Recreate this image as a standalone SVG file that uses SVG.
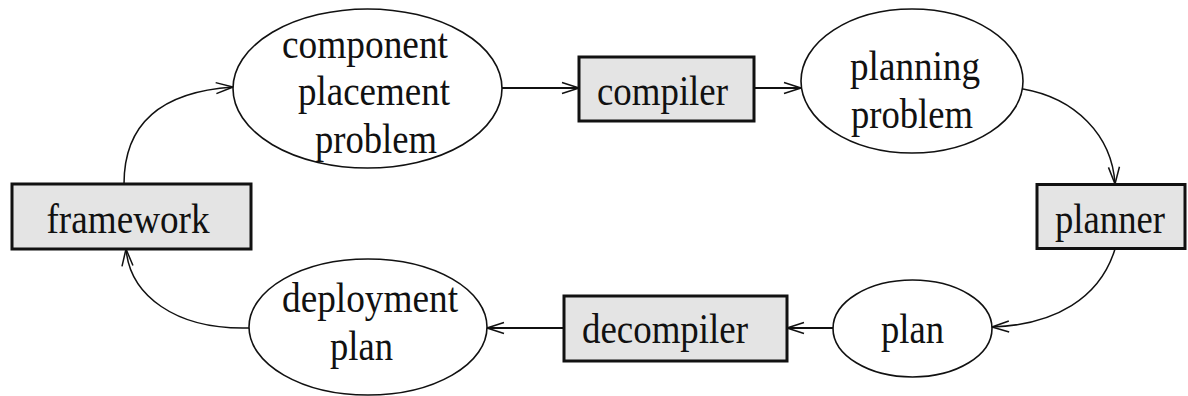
<svg xmlns="http://www.w3.org/2000/svg" width="1188" height="396" viewBox="0 0 1188 396">
  <style>
    .box { fill: #e4e4e4; stroke: #111; stroke-width: 3; }
    .oval { fill: #fff; stroke: #111; stroke-width: 1.6; }
    .lbl { font-family: "Liberation Serif", "Times New Roman", serif; font-size: 42px; fill: #111; text-anchor: middle; }
    .edge { fill: none; stroke: #111; stroke-width: 1.5; marker-end: url(#open); }
    .edge.thick { stroke-width: 2.2; }
  </style>
  <defs>
    <!-- open "V" arrowhead shared by all connectors -->
    <marker id="open" viewBox="0 0 19 14" refX="18" refY="7" markerWidth="19" markerHeight="14" markerUnits="userSpaceOnUse" orient="auto">
      <path d="M1,1.5 L18,7 L1,12.5" fill="none" stroke="#111" stroke-width="1.5"/>
    </marker>
  </defs>
  <rect width="1188" height="396" fill="#fff"/>

  <!-- connectors -->
  <g id="connectors">
    <path class="edge" d="M124,184 C124,126 158,92 233,87"/>
    <path class="edge thick" d="M502,88 L579,88"/>
    <path class="edge thick" d="M754,88 L801,88"/>
    <path class="edge" d="M1023,89 C1075,98 1112,135 1115,184"/>
    <path class="edge" d="M1115,249 C1100,298 1055,325 992,327"/>
    <path class="edge thick" d="M833,328 L787,328"/>
    <path class="edge thick" d="M564,328 L487,328"/>
    <path class="edge" d="M249,328 C175,330 130,295 126,249"/>
  </g>

  <!-- nodes -->
  <g id="framework">
    <rect class="box" x="12" y="184" width="239" height="65"/>
    <text class="lbl" x="128" y="233" textLength="163" lengthAdjust="spacingAndGlyphs">framework</text>
  </g>
  <g id="component-placement-problem">
    <ellipse class="oval" cx="367.5" cy="88.5" rx="134.5" ry="79.5"/>
    <text class="lbl" x="365" y="58" textLength="166" lengthAdjust="spacingAndGlyphs">component</text>
    <text class="lbl" x="374" y="105" textLength="152" lengthAdjust="spacingAndGlyphs">placement</text>
    <text class="lbl" x="376" y="153" textLength="122" lengthAdjust="spacingAndGlyphs">problem</text>
  </g>
  <g id="compiler">
    <rect class="box" x="579" y="57" width="175" height="64"/>
    <text class="lbl" x="662.5" y="105" textLength="131" lengthAdjust="spacingAndGlyphs">compiler</text>
  </g>
  <g id="planning-problem">
    <ellipse class="oval" cx="912" cy="81" rx="111" ry="72"/>
    <text class="lbl" x="915" y="80" textLength="130" lengthAdjust="spacingAndGlyphs">planning</text>
    <text class="lbl" x="912" y="128" textLength="122" lengthAdjust="spacingAndGlyphs">problem</text>
  </g>
  <g id="planner">
    <rect class="box" x="1037" y="184.5" width="148" height="64"/>
    <text class="lbl" x="1110" y="233" textLength="110" lengthAdjust="spacingAndGlyphs">planner</text>
  </g>
  <g id="plan">
    <ellipse class="oval" cx="912.5" cy="328.5" rx="79.5" ry="48.5"/>
    <text class="lbl" x="912.5" y="343" textLength="63" lengthAdjust="spacingAndGlyphs">plan</text>
  </g>
  <g id="decompiler">
    <rect class="box" x="564" y="296" width="223" height="65"/>
    <text class="lbl" x="665" y="343" textLength="166" lengthAdjust="spacingAndGlyphs">decompiler</text>
  </g>
  <g id="deployment-plan">
    <ellipse class="oval" cx="368" cy="327" rx="119" ry="68"/>
    <text class="lbl" x="370" y="312" textLength="176" lengthAdjust="spacingAndGlyphs">deployment</text>
    <text class="lbl" x="361.5" y="360" textLength="63" lengthAdjust="spacingAndGlyphs">plan</text>
  </g>
</svg>
